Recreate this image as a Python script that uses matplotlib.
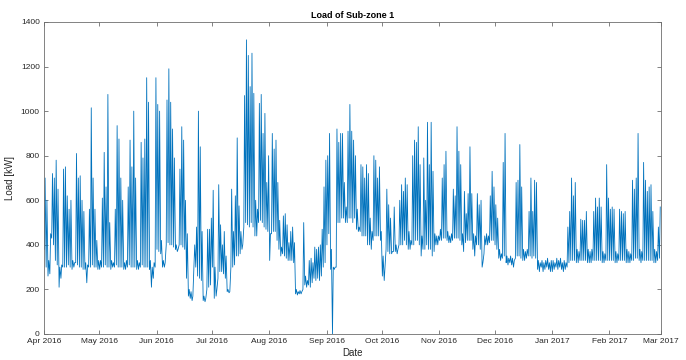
import numpy as np
import pandas as pd
import matplotlib
matplotlib.use("Agg")
import matplotlib.pyplot as plt
import matplotlib.dates as mdates

# ── Daily load (kW): night base and daytime peak ──
apr_peak = [700, 600, 330, 450, 720, 700, 780, 650, 300, 310, 740, 750, 620, 560, 600,
            330, 320, 810, 700, 710, 600, 550, 320, 310, 560, 1015, 700, 560, 420, 330]
apr_base = [380, 300, 260, 270, 430, 400, 330, 310, 210, 250, 300, 300, 300, 310, 300,
            290, 300, 320, 310, 300, 300, 290, 290, 230, 300, 300, 310, 300, 300, 290]
may_peak = [330, 610, 815, 660, 1075, 500, 330, 320, 560, 935, 875, 700, 600, 320, 330,
            660, 870, 750, 1000, 700, 330, 320, 860, 790, 875, 1150, 1040, 330, 300, 320, 1150]
may_base = [290, 300, 300, 310, 300, 300, 290, 300, 300, 310, 300, 300, 300, 290, 290,
            300, 310, 300, 300, 300, 290, 290, 300, 310, 300, 300, 300, 290, 210, 250, 300]
jun_peak = [1030, 1000, 420, 330, 320, 1050, 1190, 1040, 920, 790, 400, 380, 740, 930, 870,
            600, 450, 200, 190, 170, 400, 480, 1000, 840, 460, 170, 160, 470, 470, 520]
jun_base = [380, 370, 360, 300, 300, 400, 410, 400, 400, 390, 380, 370, 400, 400, 390,
            380, 250, 170, 160, 150, 300, 300, 260, 250, 240, 150, 145, 200, 210, 220]
jul_peak = [645, 300, 200, 670, 490, 400, 460, 350, 200, 190, 650, 460, 620, 880, 575, 460,
            400, 1070, 1320, 1250, 1110, 1260, 1080, 600, 560, 1035, 1075, 900, 990, 680, 800]
jul_base = [300, 160, 170, 250, 280, 280, 270, 250, 190, 185, 300, 300, 310, 350, 350, 360,
            380, 480, 500, 490, 480, 500, 480, 440, 440, 500, 510, 500, 480, 470, 460]
aug_peak = [450, 900, 830, 870, 680, 510, 390, 530, 540, 490, 410, 460, 480, 410, 200, 190,
            195, 190, 500, 260, 240, 330, 340, 320, 390, 380, 390, 400, 470, 660, 780]
aug_base = [330, 450, 460, 460, 420, 380, 350, 360, 350, 340, 330, 330, 330, 320, 180, 175,
            180, 180, 200, 220, 210, 220, 210, 230, 250, 240, 250, 240, 260, 300, 320]
sep_peak = [800, 900, 380, 300, 300, 920, 860, 900, 900, 680, 570, 910, 1030, 910, 870,
            800, 560, 480, 760, 750, 700, 760, 720, 520, 460, 800, 780, 700, 750, 460]
sep_base = [400, 450, 290, 0, 290, 300, 500, 500, 520, 520, 500, 500, 520, 520, 500,
            520, 470, 460, 460, 440, 440, 440, 400, 400, 380, 420, 440, 440, 440, 420]
oct_peak = [350, 300, 650, 580, 520, 370, 570, 400, 380, 600, 670, 640, 700, 670, 460, 420,
            800, 870, 860, 930, 760, 440, 790, 600, 950, 760, 950, 730, 450, 440, 440]
oct_base = [260, 240, 380, 370, 360, 360, 370, 370, 360, 400, 400, 400, 420, 400, 380, 380,
            400, 400, 420, 420, 400, 350, 380, 380, 400, 380, 380, 350, 370, 400, 400]
nov_peak = [470, 700, 760, 820, 460, 440, 450, 650, 620, 930, 820, 760, 450, 640, 540,
            630, 840, 630, 450, 440, 630, 580, 600, 320, 440, 450, 440, 620, 730, 660]
nov_base = [420, 420, 430, 430, 420, 410, 410, 420, 430, 430, 430, 420, 400, 370, 410,
            420, 420, 420, 380, 350, 400, 400, 380, 300, 360, 400, 400, 410, 420, 420]
dec_peak = [580, 520, 380, 360, 770, 900, 350, 340, 350, 340, 330, 680, 690, 850, 660, 380,
            370, 380, 550, 700, 550, 690, 680, 330, 320, 330, 320, 330, 340, 320, 330]
dec_base = [400, 380, 340, 330, 340, 350, 320, 310, 320, 310, 300, 340, 350, 350, 340, 330,
            330, 340, 350, 350, 340, 350, 340, 290, 280, 300, 280, 290, 300, 290, 280]
jan_peak = [330, 320, 340, 330, 340, 320, 330, 320, 480, 550, 700, 620, 680, 380, 370, 515,
            510, 510, 550, 380, 370, 380, 550, 610, 570, 610, 570, 370, 360, 760, 610]
jan_base = [280, 290, 300, 290, 300, 290, 280, 290, 300, 320, 330, 330, 330, 320, 320, 330,
            330, 330, 330, 320, 320, 320, 330, 330, 330, 330, 330, 320, 320, 330, 330]
feb_peak = [560, 570, 560, 370, 360, 560, 550, 540, 550, 380, 370, 360, 690, 650,
            700, 900, 380, 370, 770, 690, 640, 660, 670, 550, 380, 370, 480, 570]
feb_base = [330, 330, 330, 320, 320, 330, 330, 330, 330, 320, 320, 320, 330, 330,
            340, 340, 330, 320, 330, 330, 330, 330, 330, 330, 320, 320, 330, 340]

peaks = apr_peak + may_peak + jun_peak + jul_peak + aug_peak + sep_peak + \
        oct_peak + nov_peak + dec_peak + jan_peak + feb_peak
bases = apr_base + may_base + jun_base + jul_base + aug_base + sep_base + \
        oct_base + nov_base + dec_base + jan_base + feb_base

# ── Build the time axis: base in the night, peak in the afternoon ──
days = pd.date_range("2016-04-01", periods=len(peaks), freq="D")
t_base = days + pd.Timedelta(hours=4)
t_peak = days + pd.Timedelta(hours=14)
t = np.column_stack([t_base.values, t_peak.values]).ravel()
load = np.column_stack([bases, peaks]).ravel()

# ── Plot ──────────────────────────────────────────────
plt.rcParams['font.family'] = ['Liberation Sans', 'DejaVu Sans']
axis_col = '#6e6e6e'
text_col = '#262626'

fig = plt.figure(figsize=(6.86, 3.6), dpi=100)
ax = fig.add_axes([44 / 686, 26 / 360, 617 / 686, 312 / 360])
ax.plot(t, load, color='#0072BD', lw=0.6)

ax.set_xlim(pd.Timestamp("2016-04-01"), pd.Timestamp("2017-03-01"))
ax.set_ylim(0, 1400)
ax.set_yticks(np.arange(0, 1401, 200))
ax.xaxis.set_major_locator(mdates.MonthLocator())
ax.xaxis.set_major_formatter(mdates.DateFormatter("%b %Y"))

ax.tick_params(direction='in', length=3, width=0.6, colors=axis_col,
               labelcolor=text_col, labelsize=6, top=True, right=True, pad=3)
for s in ax.spines.values():
    s.set_color(axis_col)
    s.set_linewidth(0.6)

ax.set_title("Load of Sub-zone 1", fontsize=6.5, fontweight='bold', color='black', pad=3)
ax.set_xlabel("Date", fontsize=7, color=text_col, labelpad=2)
ax.set_ylabel("Load [kW]", fontsize=7, color=text_col, labelpad=4)

fig.savefig("out.png", dpi=100)
